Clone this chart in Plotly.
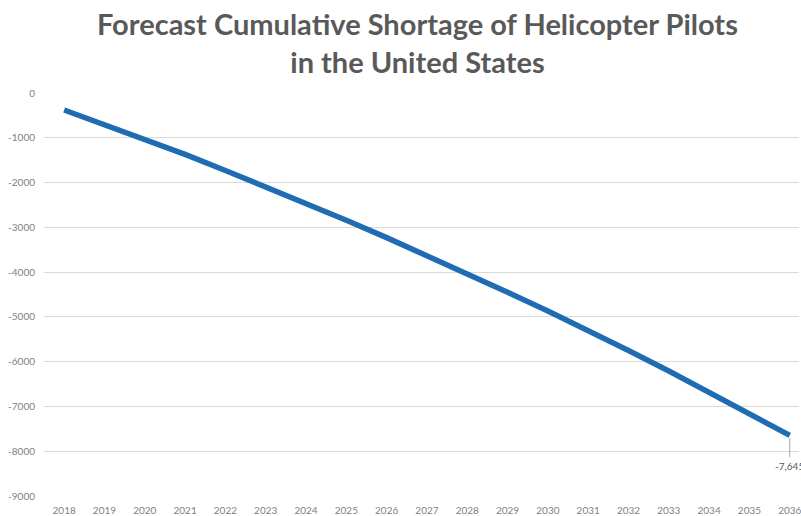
import plotly.graph_objects as go

# Forecast cumulative shortage of helicopter pilots (US), by year
years = [str(y) for y in range(2018, 2037)]
shortage = [-380, -700, -1030, -1370, -1730, -2090, -2460, -2840, -3230, -3630,
            -4040, -4450, -4870, -5300, -5750, -6210, -6690, -7160, -7645]

y_ticks = [0, -1000, -2000, -3000, -4000, -5000, -6000, -7000, -8000, -9000]
y_tick_text = [str(v) for v in y_ticks]

title_lines = ["Forecast Cumulative Shortage of Helicopter Pilots", "in the United States"]

fig = go.Figure()
fig.add_trace(go.Scatter(
    x=years, y=shortage, mode="lines",
    line=dict(color="#1f6cb2", width=5.5),
    hoverinfo="skip",
))

# category position of the last year (numeric-looking labels need the index)
last = len(years) - 1

# leader line below the final point
fig.add_shape(
    type="line", xref="x", yref="y",
    x0=last, x1=last,
    ysizemode="pixel", yanchor=shortage[-1], y0=-3, y1=-22,
    line=dict(color="#a6a6a6", width=1),
)
# value label on the final year
fig.add_annotation(
    x=last, y=shortage[-1],
    text=f"{shortage[-1]:,.0f}",
    showarrow=False, xanchor="center", yanchor="middle", yshift=-31,
    font=dict(family="Lato, sans-serif", size=10, color="#595959"),
)

# chart title
fig.add_annotation(
    xref="paper", yref="paper", x=0.5, y=1, xshift=-4, yshift=51,
    xanchor="center", yanchor="middle",
    text="<b>" + "<br>".join(title_lines) + "</b>",
    showarrow=False,
    font=dict(family="Lato, sans-serif", size=29, color="#595959"),
)

fig.update_layout(
    width=801, height=516,
    margin=dict(l=44, r=0, t=93, b=20),
    paper_bgcolor="white", plot_bgcolor="white",
    showlegend=False,
    xaxis=dict(
        type="category",
        range=[-0.5, 18.23],
        showgrid=False, showline=False, zeroline=False,
        ticks="", ticklabelstandoff=7,
        tickfont=dict(family="Lato, sans-serif", size=10, color="#7f7f7f"),
    ),
    yaxis=dict(
        range=[-9000, 0],
        tickvals=y_ticks, ticktext=y_tick_text,
        showgrid=True, gridcolor="#d9d9d9", gridwidth=1,
        zeroline=False, showline=False, ticks="",
        ticklabelstandoff=8,
        tickfont=dict(family="Lato, sans-serif", size=10, color="#7f7f7f"),
    ),
)

fig.write_html("out.html")
